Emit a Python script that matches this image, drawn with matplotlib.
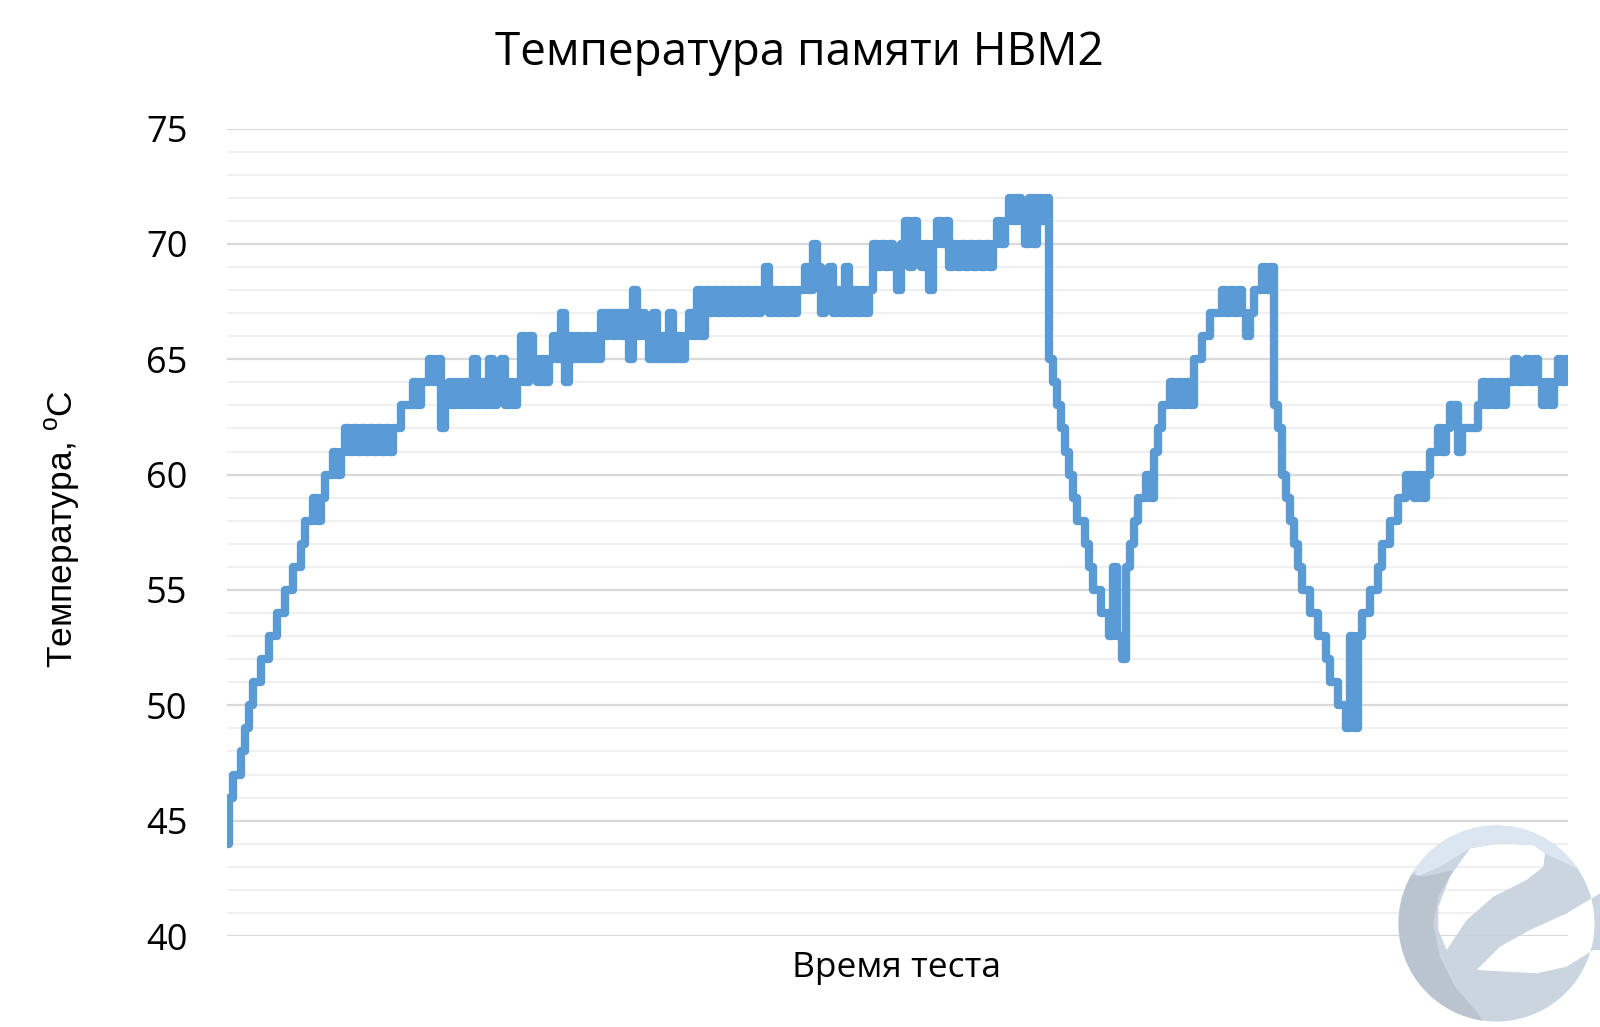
import numpy as np
import matplotlib
matplotlib.use('Agg')
import matplotlib.pyplot as plt
from matplotlib.path import Path
from matplotlib.patches import PathPatch, Polygon

# HBM2 memory temperature over the test run (one reading per sample)
temps = [
    44, 46, 47, 47, 48, 49, 50, 51, 51, 52,
    52, 53, 53, 54, 54, 55, 55, 56, 56, 57,
    58, 58, 59, 58, 59, 60, 60, 61, 60, 61,
    62, 61, 62, 61, 62, 61, 62, 61, 62, 61,
    62, 61, 62, 62, 63, 63, 63, 64, 63, 64,
    64, 65, 64, 65, 62, 63, 64, 63, 64, 63,
    64, 63, 65, 63, 64, 63, 65, 63, 64, 65,
    63, 64, 63, 64, 66, 64, 66, 65, 64, 65,
    64, 65, 66, 65, 67, 64, 66, 65, 66, 65,
    66, 65, 66, 65, 67, 66, 67, 66, 67, 66,
    67, 65, 68, 66, 67, 66, 65, 67, 65, 66,
    65, 67, 65, 66, 65, 66, 67, 66, 68, 66,
    68, 67, 68, 67, 68, 67, 68, 67, 68, 67,
    68, 67, 68, 67, 68, 69, 67, 68, 67, 68,
    67, 68, 67, 68, 68, 69, 68, 70, 69, 67,
    68, 69, 67, 68, 67, 69, 67, 68, 67, 68,
    67, 68, 70, 69, 70, 69, 70, 69, 68, 70,
    71, 69, 71, 70, 69, 70, 68, 70, 71, 70,
    71, 69, 70, 69, 70, 69, 70, 69, 70, 69,
    70, 69, 70, 71, 70, 71, 72, 71, 72, 71,
    70, 72, 70, 72, 71, 72, 65, 64, 63, 62,
    61, 60, 59, 58, 58, 57, 56, 55, 55, 54,
    54, 53, 56, 53, 52, 56, 57, 58, 59, 59,
    60, 59, 61, 62, 63, 63, 64, 63, 64, 63,
    64, 63, 65, 65, 66, 66, 67, 67, 67, 68,
    67, 68, 67, 68, 67, 66, 67, 68, 68, 69,
    68, 69, 63, 62, 60, 59, 58, 57, 56, 55,
    55, 54, 54, 53, 53, 52, 51, 51, 50, 50,
    49, 53, 49, 53, 54, 54, 55, 55, 56, 57,
    57, 58, 58, 59, 59, 60, 60, 59, 60, 59,
    60, 61, 61, 62, 61, 62, 63, 63, 61, 62,
    62, 62, 62, 63, 64, 63, 64, 63, 64, 63,
    64, 64, 65, 64, 64, 65, 64, 65, 64, 63,
    64, 63, 64, 65, 64, 65,
]

title = 'Температура памяти HBM2'
y_label = r'Температура, $\mathregular{^{o}}$C'
x_label = 'Время теста'
y_ticks = [40, 45, 50, 55, 60, 65, 70, 75]

W, H = 1600, 1027
fig = plt.figure(figsize=(W / 100, H / 100), dpi=100)
fig.patch.set_facecolor('white')

ax = fig.add_axes([226.5 / W, 1 - 936 / H, (1568 - 226.5) / W, (936 - 128.6) / H])
x = np.arange(len(temps))
ax.plot(x, temps, color='#5B9BD5', lw=6, drawstyle='steps-mid',
        solid_joinstyle='round', solid_capstyle='round', zorder=3)

ax.set_xlim(0, len(temps) - 1)
ax.set_ylim(40, 75)
ax.set_yticks(y_ticks)
ax.set_yticks(np.arange(40, 76, 1), minor=True)
ax.set_xticks([])
ax.grid(which='major', axis='y', color='#D9D9D9', lw=1.6, zorder=0)
ax.grid(which='minor', axis='y', color='#EFEFEF', lw=1.3, zorder=0)
ax.set_axisbelow(True)
for s in ax.spines.values():
    s.set_visible(False)
ax.tick_params(axis='y', which='both', length=0, pad=28, labelsize=26)
for lab in ax.get_yticklabels():
    lab.set_family('Open Sans')

fig.text(799 / W, 1 - 53 / H, title, ha='center', va='center',
         fontsize=33, family='Open Sans')
fig.text(896 / W, 1 - 968 / H, x_label, ha='center', va='center',
         fontsize=25.5, family='Open Sans')
fig.text(62 / W, 1 - 529 / H, y_label, ha='center', va='center',
         rotation=90, fontsize=25.5, family='Liberation Sans')


# watermark logo, bottom right (drawn in figure pixel coordinates)
def px(pts):
    return [[1380 + a / 3, 810 + b / 3] for a, b in pts]


def ring_path(outer, holes):
    verts, codes = [], []
    def add(poly, ccw):
        poly = np.asarray(poly, float)
        area = 0.5 * np.sum(poly[:, 0] * np.roll(poly[:, 1], -1) - np.roll(poly[:, 0], -1) * poly[:, 1])
        if (area > 0) != ccw:
            poly = poly[::-1]
        verts.extend(poly.tolist() + [poly[0].tolist()])
        codes.extend([Path.MOVETO] + [Path.LINETO] * (len(poly) - 1) + [Path.CLOSEPOLY])
    add(outer, True)
    for h in holes:
        add(h, False)
    return Path(verts, codes)


lg = fig.add_axes([1380 / W, 0, 220 / W, 217 / H])
lg.set_xlim(1380, 1600)
lg.set_ylim(1027, 810)
lg.axis('off')
cx, cy, r = 1496.5, 923.5, 98
t = np.linspace(0, 2 * np.pi, 200)
disk = np.column_stack([cx + r * np.cos(t), cy - r * np.sin(t)])
hole1 = px([(270, 115), (360, 100), (460, 105), (495, 130), (490, 170), (440, 210),
            (340, 260), (260, 330), (200, 420), (175, 360), (175, 290), (210, 200)])
hole2 = px([(290, 480), (360, 410), (450, 360), (560, 310), (660, 250), (720, 260),
            (720, 420), (640, 420), (560, 470), (470, 490), (380, 485)])
lg.add_patch(PathPatch(ring_path(disk, [hole1, hole2]), fc='#C6D1DC', ec='none', alpha=0.9))

ta = np.radians(np.linspace(147, 27, 60))
top_band = np.column_stack([cx + r * np.cos(ta), cy - r * np.sin(ta)]).tolist()
top_band += px([(590, 175), (495, 130), (460, 105), (360, 100), (270, 115), (180, 170), (110, 200)])
lg.add_patch(Polygon(top_band, closed=True, fc='#DCE7F1', ec='none', alpha=0.95))

la = np.radians(np.linspace(150, 262, 60))
crescent = np.column_stack([cx + r * np.cos(la), cy - r * np.sin(la)]).tolist()
crescent += px([(290, 605), (225, 530), (180, 440), (160, 340), (175, 260), (220, 180), (130, 200)])
lg.add_patch(Polygon(crescent, closed=True, fc='#B9C4CF', ec='none', alpha=0.95))

fig.savefig('out.png', dpi=100, facecolor='white')
